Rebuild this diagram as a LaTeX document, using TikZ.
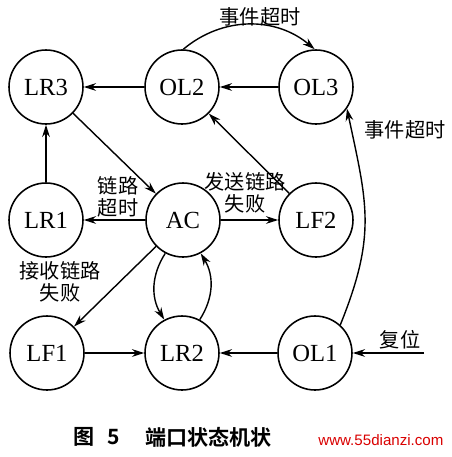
\documentclass[tikz,border=0pt]{standalone}
\usepackage{fontspec}
\setmainfont{Liberation Serif}
\newfontfamily\cjk{Noto Sans CJK SC}
\newfontfamily\cjkb{Noto Sans CJK SC Bold}
\newfontfamily\wmfont{Liberation Sans}
\usetikzlibrary{arrows.meta}
\begin{document}
\begin{tikzpicture}[x=0.02cm,y=-0.02cm,
  state/.style={circle,draw,line width=0.9pt,minimum size=1.48cm,inner sep=0pt,font=\fontsize{14}{16}\selectfont},
  edge/.style={line width=0.8pt,-{Stealth[length=7pt,width=4.4pt]}},
  lbl/.style={font=\cjk\fontsize{11.5}{12.5}\selectfont,align=center,inner sep=0pt}]
\useasboundingbox (0,0) rectangle (452,457);
\node[state] (LR3) at (46,87) {LR3};
\node[state] (OL2) at (182,87) {OL2};
\node[state] (OL3) at (316,87) {OL3};
\node[state] (LR1) at (46,220) {LR1};
\node[state] (AC)  at (183,220) {AC};
\node[state] (LF2) at (316,220) {LF2};
\node[state] (LF1) at (47,353) {LF1};
\node[state] (LR2) at (182,353) {LR2};
\node[state] (OL1) at (315,353) {OL1};
\coordinate (rst) at (424,353);

\draw[edge] (OL2) -- (LR3);
\draw[edge] (OL3) -- (OL2);
\draw[edge] (OL2.88) to[out=40,in=140] (OL3.92);
\draw[edge] (LR3) -- (AC);
\draw[edge] (LR1) -- (LR3);
\draw[edge] (AC) -- (LR1);
\draw[edge] (AC) -- (LF2);
\draw[edge] (LF2) -- (OL2);
\draw[edge] (AC) -- (LF1);
\draw[edge] (AC.-118) to[bend right=32] (LR2.118);
\draw[edge] (LR2.62) to[bend right=32] (AC.-62);
\draw[edge] (LF1) -- (LR2);
\draw[edge] (OL1) -- (LR2);
\draw[edge] (rst) -- (OL1);
\draw[edge] (OL1.48) to[out=68,in=-78,looseness=1.15] (OL3.-35);

\node[lbl] (l1) at (260,17) {事件超时};
\node[lbl] (l2) at (405,130) {事件超时};
\node[lbl] (l3) at (118,197) {链路\\超时};
\node[lbl] (l4) at (245,193) {发送链路\\失败};
\node[lbl] (l5) at (60,282) {接收链路\\失败};
\node[lbl] (l6) at (400,340) {复位};

\node[anchor=west,inner sep=0pt,font=\cjkb\fontsize{12}{13}\selectfont] (cap1) at (73,437) {图\hspace{0.6em}5};
\node[anchor=west,inner sep=0pt,font=\cjkb\fontsize{12}{13}\selectfont] (cap2) at (145,437) {端口状态机状};
\node[anchor=west,inner sep=0pt,text=red!85!black,font=\wmfont\fontsize{8.6}{10}\selectfont] (wm) at (318,440) {www.55dianzi.com};
\end{tikzpicture}
\end{document}
